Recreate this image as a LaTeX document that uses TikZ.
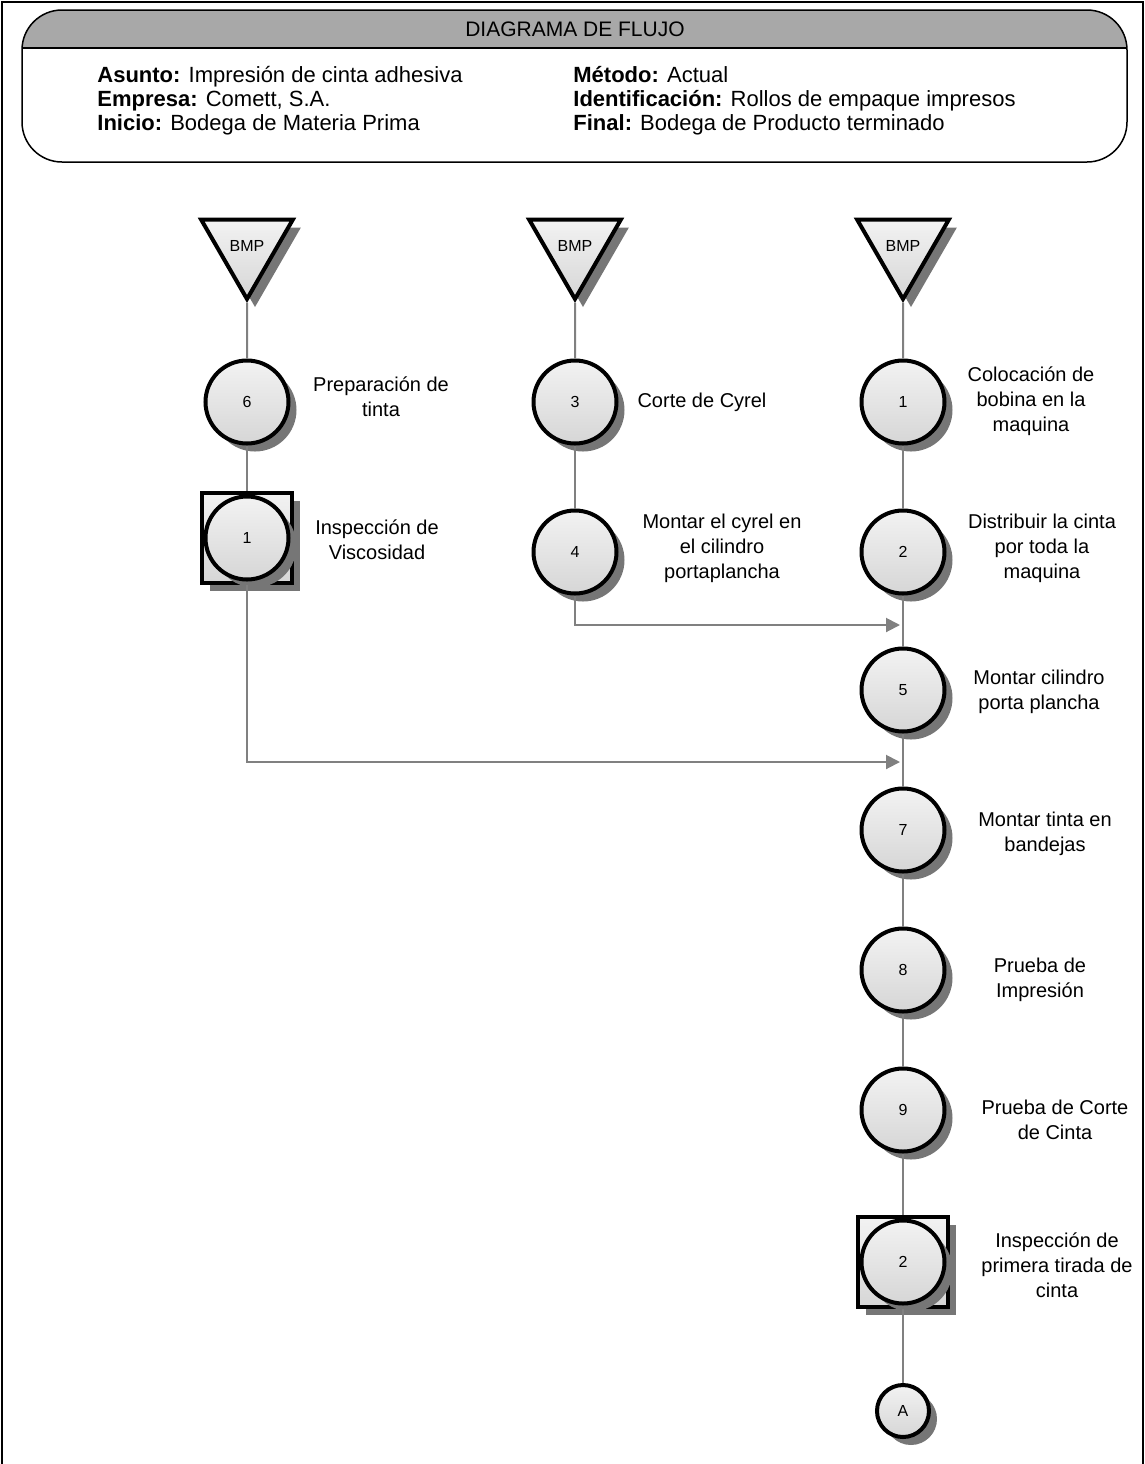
\documentclass[tikz,border=0pt]{standalone}
\usepackage{fontspec}
\setmainfont{Liberation Sans}
\usetikzlibrary{positioning, arrows.meta, shapes.geometric, shadows}
\definecolor{bandC}{RGB}{168, 168, 168}
\definecolor{shadC}{RGB}{118, 118, 118}
\definecolor{lineC}{RGB}{128, 128, 128}

\tikzset{
  symbase/.style={draw=black, line width=2pt, top color=gray!10, bottom color=gray!32,
    drop shadow={shadow xshift=4pt, shadow yshift=-4pt, fill=shadC, opacity=1},
    inner sep=0pt, font=\fontsize{8}{9}\selectfont},
  opnode/.style={symbase, circle, minimum size=41.5pt},
  storenode/.style={symbase, regular polygon, regular polygon sides=3,
    shape border rotate=180, minimum size=53pt, font=\fontsize{8}{9}\selectfont},
  inspbox/.style={symbase, rectangle, minimum size=45pt},
  linknode/.style={symbase, circle, minimum size=26pt},
  conn/.style={draw=lineC, line width=1pt},
  flow/.style={conn, -{Triangle[length=7pt, width=7pt]}},
  stepnote/.style={align=center, font=\fontsize{10}{12.5}\selectfont},
  headtext/.style={align=left, anchor=west, inner sep=0pt, font=\fontsize{11}{12}\selectfont}
}

\begin{document}
\begin{tikzpicture}[x=0.5pt, y=-0.5pt]
        \useasboundingbox (0,0) rectangle (1145,1464);
        % page frame
        \draw[line width=0.75pt] (2,1464) -- (2,2) -- (1143,2) -- (1143,1464);

        % ── Header ─────────────────────────────────────────────────────
        \begin{scope}
          \clip[rounded corners=20pt] (22,10) rectangle (1127,162);
          \fill[bandC] (22,10) rectangle (1127,48);
        \end{scope}
        \draw[line width=0.75pt, rounded corners=20pt] (22,10) rectangle (1127,162);
        \draw[line width=0.75pt] (22,48) -- (1127,48);
        \node[font=\fontsize{10.5}{12}\selectfont] (title) at (575,29) {DIAGRAMA DE FLUJO};
        \node[headtext] (infoL) at (97,101)
              {\textbf{Asunto:} Impresión de cinta adhesiva\\
               \textbf{Empresa:} Comett, S.A.\\
               \textbf{Inicio:} Bodega de Materia Prima};
        \node[headtext] (infoR) at (573,101)
              {\textbf{Método:} Actual\\
               \textbf{Identificación:} Rollos de empaque impresos\\
               \textbf{Final:} Bodega de Producto terminado};

        % ── Left column: ink ───────────────────────────────────────────
        \node[storenode] (bmpL) at (247,246) {BMP};
        \node[opnode] (op6) at (247,402) {6};
        \node[inspbox] (insp1box) at (247,538) {};
        \node[opnode] (insp1) at (247,538) {1};
        \node[stepnote] (lbl6) at (381,397) {Preparación de\\tinta};
        \node[stepnote] (lblI1) at (377,540) {Inspección de\\Viscosidad};

        % ── Middle column: cyrel ───────────────────────────────────────
        \node[storenode] (bmpM) at (575,246) {BMP};
        \node[opnode] (op3) at (575,402) {3};
        \node[opnode] (op4) at (575,552) {4};
        \node[stepnote] (lbl3) at (702,402) {Corte de Cyrel};
        \node[stepnote] (lbl4) at (722,548) {Montar el cyrel en\\el cilindro\\portaplancha};

        % ── Right column: main line ────────────────────────────────────
        \node[storenode] (bmpR) at (903,246) {BMP};
        \node[opnode] (op1) at (903,402) {1};
        \node[opnode] (op2) at (903,552) {2};
        \node[opnode] (op5) at (903,690) {5};
        \node[opnode] (op7) at (903,830) {7};
        \node[opnode] (op8) at (903,970) {8};
        \node[opnode] (op9) at (903,1110) {9};
        \node[inspbox] (insp2box) at (903,1262) {};
        \node[opnode] (insp2) at (903,1262) {2};
        \node[linknode] (linkA) at (903,1411) {A};

        \node[stepnote] (lbl1) at (1031,401) {Colocación de\\bobina en la\\maquina};
        \node[stepnote] (lbl2) at (1042,548) {Distribuir la cinta\\por toda la\\maquina};
        \node[stepnote] (lbl5) at (1039,692) {Montar cilindro\\porta plancha};
        \node[stepnote] (lbl7) at (1045,834) {Montar tinta en\\bandejas};
        \node[stepnote] (lbl8) at (1040,980) {Prueba de\\Impresión};
        \node[stepnote] (lbl9) at (1055,1120) {Prueba de Corte\\de Cinta};
        \node[stepnote] (lblI2) at (1057,1265) {Inspección de\\primera tirada de\\cinta};

        % ── Connectors ─────────────────────────────────────────────────
        \coordinate (join4) at (900,625);
        \coordinate (joinI) at (900,762);
        \draw[conn] (bmpL.south) -- (op6.north);
        \draw[conn] (op6.south) -- (insp1box.north);
        \draw[conn] (bmpM.south) -- (op3.north);
        \draw[conn] (op3.south) -- (op4.north);
        \draw[conn] (bmpR.south) -- (op1.north);
        \draw[conn] (op1.south) -- (op2.north);
        \draw[conn] (op2.south) -- (op5.north);
        \draw[conn] (op5.south) -- (op7.north);
        \draw[conn] (op7.south) -- (op8.north);
        \draw[conn] (op8.south) -- (op9.north);
        \draw[conn] (op9.south) -- (insp2box.north);
        \draw[conn] (insp2box.south) -- (linkA.north);
        \draw[flow] (op4.south) |- (join4);
        \draw[flow] (insp1box.south) |- (joinI);
\end{tikzpicture}
\end{document}
